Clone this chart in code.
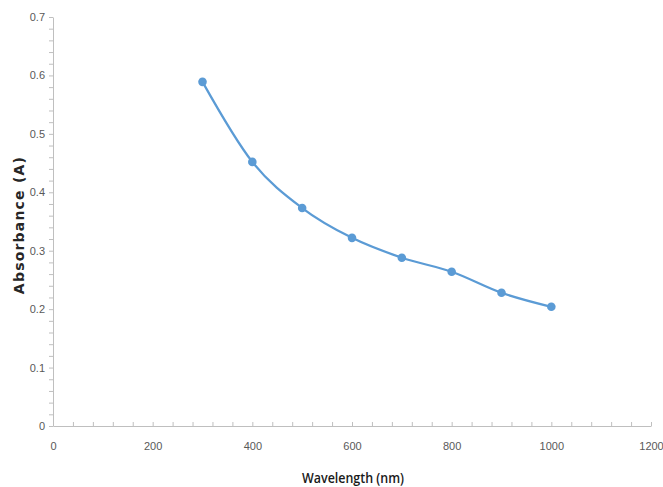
<!DOCTYPE html>
<html>
<head>
<meta charset="utf-8">
<script src="https://cdn.jsdelivr.net/npm/d3@7"></script>
<style>
	body { margin: 0; background: #fff; }
</style>
</head>
<body>
<div id="chart"></div>
<script>
// Readings
const wavelengths = [300, 400, 500, 600, 700, 800, 900, 1000];
const absorbance = [0.589, 0.452, 0.373, 0.322, 0.288, 0.264, 0.228, 0.204];
const xTicks = [0, 200, 400, 600, 800, 1000, 1200];
const yTicks = [0, 0.1, 0.2, 0.3, 0.4, 0.5, 0.6, 0.7];

const width = 663,
	height = 487;
const margin = { left: 53, right: 12, top: 17, bottom: 61 };

const axisColor = "#bfbfbf";
const labelColor = "#595959";
const seriesColor = "#5b9bd5";

const x = d3
	.scaleLinear()
	.domain([0, 1200])
	.range([margin.left, width - margin.right]);

const y = d3
	.scaleLinear()
	.domain([0, 0.7])
	.range([height - margin.bottom, margin.top]);

const svg = d3
	.select("#chart")
	.append("svg")
	.attr("width", width)
	.attr("height", height)
	.attr("font-family", "'Open Sans', 'Liberation Sans', sans-serif");

// Y axis with minor ticks
const yAxis = svg
	.append("g")
	.attr("transform", `translate(${margin.left},0)`)
	.call(
		d3
			.axisLeft(y)
			.tickValues(d3.range(0, 0.7001, 0.02))
			.tickSize(4)
			.tickSizeOuter(0)
			.tickFormat((d) => {
				const v = Math.round(d * 100) / 100;
				return yTicks.some((t) => Math.abs(t - v) < 1e-9) ? d3.format("~g")(v) : "";
			})
	);
yAxis.select(".domain").attr("stroke", axisColor);
yAxis.selectAll(".tick line").attr("stroke", axisColor);
yAxis
	.selectAll(".tick text")
	.attr("fill", labelColor)
	.attr("font-size", "11px")
	.attr("x", -8);

// X axis with minor ticks
const xAxis = svg
	.append("g")
	.attr("transform", `translate(0,${y(0)})`)
	.call(
		d3
			.axisBottom(x)
			.tickValues(d3.range(0, 1201, 40))
			.tickSize(-4)
			.tickSizeOuter(0)
			.tickFormat((d) => (xTicks.includes(d) ? d : ""))
	);
xAxis.select(".domain").attr("stroke", axisColor);
xAxis.selectAll(".tick line").attr("stroke", axisColor);
xAxis
	.selectAll(".tick text")
	.attr("fill", labelColor)
	.attr("font-size", "11px")
	.attr("y", 16);

// Smoothed series line
const data = wavelengths.map((w, i) => ({ w, a: absorbance[i] }));

svg.append("path")
	.datum(data)
	.attr("fill", "none")
	.attr("stroke", seriesColor)
	.attr("stroke-width", 2.25)
	.attr(
		"d",
		d3
			.line()
			.curve(d3.curveCardinal.tension(0))
			.x((d) => x(d.w))
			.y((d) => y(d.a))
	);

svg.append("g")
	.selectAll("circle")
	.data(data)
	.join("circle")
	.attr("cx", (d) => x(d.w))
	.attr("cy", (d) => y(d.a))
	.attr("r", 4.3)
	.attr("fill", seriesColor);

// Axis titles
svg.append("text")
	.attr("x", 353)
	.attr("y", 483)
	.attr("text-anchor", "middle")
	.attr("font-size", "15px")
	.attr("font-weight", 600)
	.attr("textLength", 102)
	.attr("lengthAdjust", "spacingAndGlyphs")
	.attr("fill", "#1a1a1a")
	.text("Wavelength (nm)");

svg.append("text")
	.attr("transform", `translate(24,225) rotate(-90)`)
	.attr("text-anchor", "middle")
	.attr("font-family", "'DejaVu Sans', sans-serif")
	.attr("font-size", "14px")
	.attr("font-weight", "bold")
	.attr("letter-spacing", "1.2px")
	.attr("fill", "#262626")
	.text("Absorbance (A)");
</script>
</body>
</html>
